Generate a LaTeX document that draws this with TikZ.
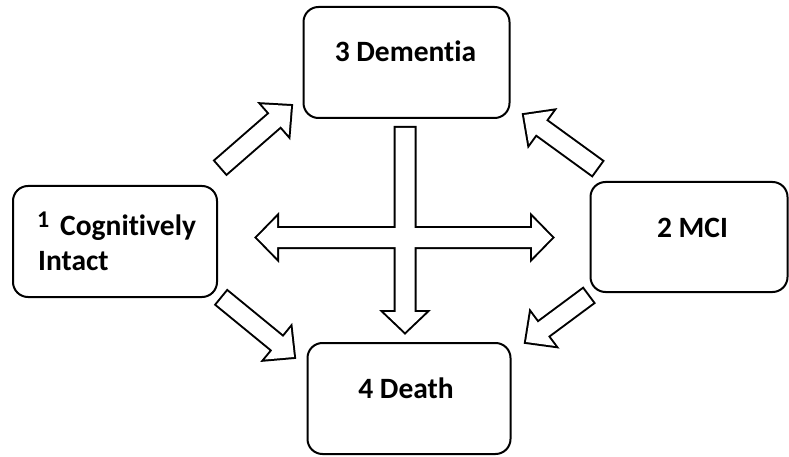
\documentclass[tikz,border=0pt]{standalone}
\usepackage{fontspec}
\setmainfont{Carlito}[Ligatures={NoCommon}]
\usetikzlibrary{calc}

% block arrow from #2 to tip #3: #4 shaft half-width, #5 head half-width, #6 head length
\newcommand\blockarrow[6]{%
  \coordinate (bh) at ($(#3)!#6!(#2)$);
  \path[#1] ($(#2)!#4!90:(#3)$) -- ($(bh)!#4!-90:(#2)$) -- ($(bh)!#5!-90:(#2)$)
    -- (#3) -- ($(bh)!#5!90:(#2)$) -- ($(bh)!#4!90:(#2)$) -- ($(#2)!#4!-90:(#3)$) -- cycle;}
% double-headed block arrow between tips #2 and #3
\newcommand\doublearrow[6]{%
  \coordinate (ha) at ($(#2)!#6!(#3)$);
  \coordinate (hb) at ($(#3)!#6!(#2)$);
  \path[#1] (#2) -- ($(ha)!#5!90:(#3)$) -- ($(ha)!#4!90:(#3)$) -- ($(hb)!#4!-90:(#2)$)
    -- ($(hb)!#5!-90:(#2)$) -- (#3) -- ($(hb)!#5!90:(#2)$) -- ($(hb)!#4!90:(#2)$)
    -- ($(ha)!#4!-90:(#3)$) -- ($(ha)!#5!-90:(#3)$) -- cycle;}

\begin{document}
\begin{tikzpicture}[x=1pt,y=-1pt,
  statebox/.style={draw, line width=2pt, rounded corners=15pt, inner sep=0pt},
  txt/.style={inner sep=0pt, font=\bfseries\fontsize{29.5}{35}\selectfont},
  arrowedge/.style={draw, line width=4pt, line join=miter},
  arrowfill/.style={fill=white}]
\useasboundingbox (0,0) rectangle (789,457);

% states
\node[statebox, minimum width=204pt, minimum height=111pt] (intact) at (115,241.5) {};
\node[statebox, minimum width=197pt, minimum height=110pt] (mci) at (689,237) {};
\node[statebox, minimum width=206pt, minimum height=111pt] (dem) at (406.5,62.5) {};
\node[statebox, minimum width=203pt, minimum height=111pt] (death) at (409,398.5) {};

\node[txt, anchor=base west, font=\bfseries\fontsize{24}{28}\selectfont] (n1) at (37,227) {1};
\node[txt, anchor=base west] (cog) at (60,235) {Cognitively};
\node[txt, anchor=base west] (int) at (38,270) {Intact};
\node[txt, anchor=base] (t2) at (692.5,237) {2 MCI};
\node[txt, anchor=base] (t3) at (405.5,62) {3 Dementia};
\node[txt, anchor=base] (t4) at (406,398) {4 Death};

% arrow end points
\coordinate (v0) at (405,128);  \coordinate (v1) at (405,332);
\coordinate (h0) at (257,237.5); \coordinate (h1) at (552,237.5);
\coordinate (ul0) at (221,167); \coordinate (ul1) at (291,106);
\coordinate (ur0) at (597,168); \coordinate (ur1) at (524,115);
\coordinate (lr0) at (588,296); \coordinate (lr1) at (526,342);
\coordinate (ll0) at (222,298); \coordinate (ll1) at (294,357);

% outlines first, then white fills, so crossing arrows merge into one shape
\foreach \st in {arrowedge, arrowfill}{
  \blockarrow{\st}{v0}{v1}{9.5pt}{21pt}{20pt}
  \doublearrow{\st}{h0}{h1}{9.5pt}{20.5pt}{20pt}
  \blockarrow{\st}{ul0}{ul1}{8.5pt}{20.5pt}{21pt}
  \blockarrow{\st}{ur0}{ur1}{8.5pt}{20.5pt}{21pt}
  \blockarrow{\st}{lr0}{lr1}{8.5pt}{20.5pt}{21pt}
  \blockarrow{\st}{ll0}{ll1}{8.5pt}{20.5pt}{21pt}
}
\end{tikzpicture}
\end{document}
